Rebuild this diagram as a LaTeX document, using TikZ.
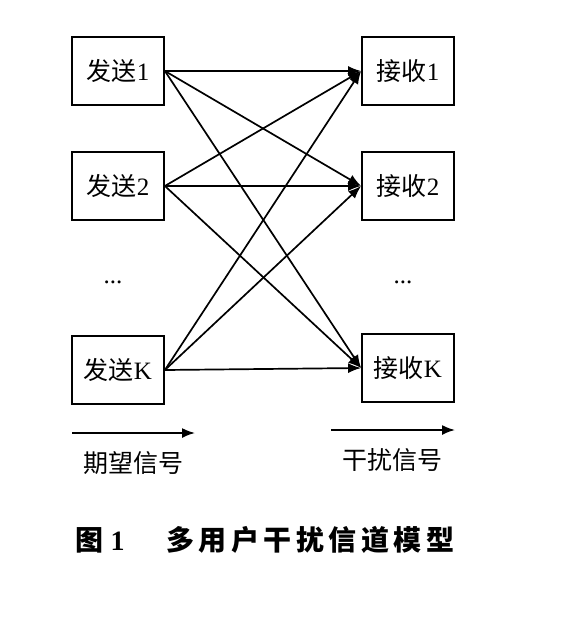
\documentclass[tikz,border=0pt]{standalone}
\usepackage{fontspec}
\setmainfont{Liberation Serif}
\newfontfamily\cjk{Noto Sans CJK SC}
\newfontfamily\cjkcap{Noto Sans CJK SC}[LetterSpace=16]
\usetikzlibrary{arrows.meta}

\tikzset{
    caja/.style={draw, line width=1.8pt, minimum width=92pt, minimum height=68pt,
        inner sep=0pt, font=\fontsize{25}{28}\selectfont},
    senal/.style={line width=1.7pt, -{Latex[length=13pt,width=10pt]}},
    texto/.style={font=\fontsize{25}{28}\selectfont}
}

\begin{document}
\begin{tikzpicture}[x=1pt, y=-1pt]
    % marco de la imagen
    \useasboundingbox (0,0) rectangle (570,637);

    % emisores
    \node[caja] (tx1) at (118,71)  {{\cjk 发送}1};
    \node[caja] (tx2) at (118,186) {{\cjk 发送}2};
    \node[caja] (txK) at (118,370) {{\cjk 发送}K};
    \node[texto] (pts1) at (113,282) {...};

    % receptores
    \node[caja] (rx1) at (408,71)  {{\cjk 接收}1};
    \node[caja] (rx2) at (408,186) {{\cjk 接收}2};
    \node[caja] (rxK) at (408,368) {{\cjk 接收}K};
    \node[texto] (pts2) at (403,282) {...};

    % canales
    \draw[senal] (tx1.east) -- (rx1.west);
    \draw[senal] (tx1.east) -- (rx2.west);
    \draw[senal] (tx1.east) -- (rxK.west);
    \draw[senal] (tx2.east) -- (rx1.west);
    \draw[senal] (tx2.east) -- (rx2.west);
    \draw[senal] (tx2.east) -- (rxK.west);
    \draw[senal] (txK.east) -- (rx1.west);
    \draw[senal] (txK.east) -- (rx2.west);
    \draw[senal] (txK.east) -- (rxK.west);

    % leyenda
    \coordinate (l1a) at (72,433);
    \coordinate (l1b) at (195,433);
    \coordinate (l2a) at (331,430);
    \coordinate (l2b) at (455,430);
    \draw[senal] (l1a) -- (l1b);
    \draw[senal] (l2a) -- (l2b);
    \node[texto] (deseada) at (133,463) {\cjk 期望信号};
    \node[texto] (interf) at (392,460) {\cjk 干扰信号};

    % pie de figura
    \node[anchor=west, font=\fontsize{28}{32}\selectfont\bfseries] (fig) at (72,540) {{\cjk 图} 1};
    \node[anchor=west, font=\fontsize{28}{32}\selectfont\bfseries] (titulo) at (163,540) {\cjkcap 多用户干扰信道模型};
\end{tikzpicture}
\end{document}
